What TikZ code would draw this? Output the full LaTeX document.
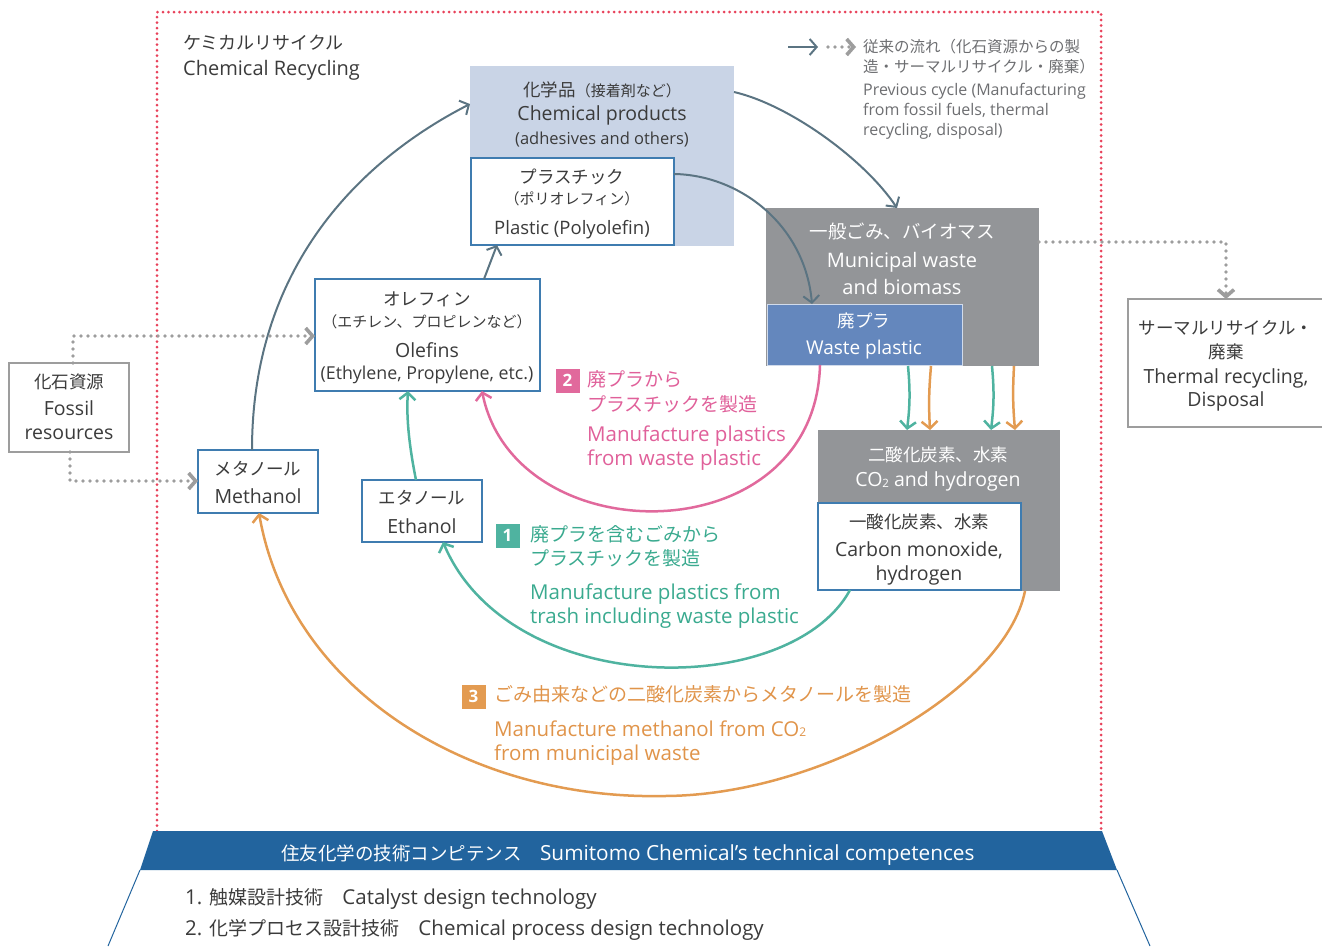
\documentclass[tikz,border=0pt]{standalone}
\usepackage{fontspec}
\setmainfont{Open Sans}
\newfontfamily\jp{Noto Sans CJK JP}
\usetikzlibrary{arrows.meta}
\definecolor{slate}{HTML}{5B7482}
\definecolor{boxblue}{HTML}{3F7CB0}
\definecolor{lightblue}{HTML}{C9D4E6}
\definecolor{boxgray}{HTML}{939598}
\definecolor{wpblue}{HTML}{6487BD}
\definecolor{dgray}{HTML}{9D9D9D}
\definecolor{redframe}{HTML}{E8415A}
\definecolor{bannerblue}{HTML}{22649E}
\definecolor{tealc}{HTML}{4FB3A0}
\definecolor{tealt}{HTML}{3AAA8F}
\definecolor{pinkc}{HTML}{E1699C}
\definecolor{pinkt}{HTML}{E0609A}
\definecolor{orangec}{HTML}{E39B51}
\definecolor{oranget}{HTML}{E0944A}
\definecolor{txtdark}{HTML}{3B3B3B}
\definecolor{lgray}{HTML}{6D6E71}
\begin{document}
\begin{tikzpicture}[x=1pt,y=-1pt,
  lat/.style={font=\fontsize{#1}{#1}\selectfont, anchor=base, inner sep=0pt, yshift=-0.35*#1pt, text=txtdark},
  jpn/.style={font=\jp\fontsize{#1}{#1}\selectfont, anchor=base, inner sep=0pt, yshift=-0.37*#1pt, text=txtdark},
  westa/.style={anchor=base west},
  boxed/.style 2 args={inner sep=0pt, outer sep=0pt, anchor=north west, minimum width=#1pt, minimum height=#2pt},
  bluebox/.style={draw=boxblue, line width=1.5pt, fill=white},
  graybox/.style={draw=dgray, line width=1.2pt, fill=white},
  tip/.style={-{Straight Barb[length=7pt,width=16pt]}},
  slatearr/.style={draw=slate, line width=2pt, tip},
  tealarr/.style={draw=tealc, line width=2.5pt, tip},
  pinkarr/.style={draw=pinkc, line width=2.5pt, tip},
  orangearr/.style={draw=orangec, line width=2.5pt, tip},
  dotarr/.style={draw=dgray, line width=3.6pt, line cap=round, dash pattern=on 0pt off 7pt, tip},
  reddot/.style={draw=redframe, line width=3pt, line cap=round, dash pattern=on 0pt off 5.5pt},
  badge/.style={minimum size=24pt, inner sep=0pt, text=white, font=\bfseries\fontsize{17}{17}\selectfont}
]
\useasboundingbox (0,0) rectangle (1322,946);

% frame
\coordinate (f1) at (157,831);
\coordinate (f2) at (157,12);
\coordinate (f3) at (1101,12);
\coordinate (f4) at (1101,831);
\draw[reddot] (f1) -- (f2) -- (f3) -- (f4);

% boxes
\node[boxed={264}{180}, fill=lightblue] (chem) at (470,66) {};
\node[boxed={203}{87}, bluebox] (plast) at (471,158) {};
\node[boxed={273}{158}, fill=boxgray] (muni) at (766,208) {};
\node[boxed={195}{61}, fill=wpblue, draw=white!70!wpblue, line width=1pt] (wp) at (767,304) {};
\node[boxed={210}{128}, graybox] (therm) at (1128,299) {};
\node[boxed={242}{161}, fill=boxgray] (cot) at (818,430) {};
\node[boxed={203}{87}, bluebox] (co) at (818,503) {};
\node[boxed={225}{112}, bluebox] (ole) at (315,279) {};
\node[boxed={120}{89}, graybox] (fos) at (9,363) {};
\node[boxed={120}{63}, bluebox] (meth) at (198,450) {};
\node[boxed={120}{62}, bluebox] (eth) at (362,480) {};

% legend arrows
\coordinate (lg1) at (788,47);
\coordinate (lg2) at (818,47);
\coordinate (lg3) at (828,47);
\coordinate (lg4) at (856,47);
\draw[slatearr] (lg1) -- (lg2);
\draw[dotarr] (lg3) -- (lg4);

% slate connectors
\draw[slatearr] ([xshift=-6pt]meth.north) .. controls (252,250) and (380,150) .. (chem.west |- 0,104);
\draw[slatearr] (chem.east |- 0,92) .. controls (790,105) and (865,160) .. (muni.north -| 897,0);
\draw[slatearr] (plast.east |- 0,174) .. controls (740,175) and (805,225) .. (wp.north -| 812,0);
\draw[slatearr] (ole.north -| 484,0) -- (plast.south -| 497,0);

% dotted connectors
\draw[dotarr] (fos.north -| 73,0) |- (ole.west |- 0,336);
\draw[dotarr] (fos.south -| 70,0) |- (meth.west |- 0,481);
\draw[dotarr] (muni.east |- 0,242) -| (therm.north -| 1226,0);

% colored connectors
\draw[tealarr] (eth.north -| 416,0) .. controls (410,450) and (406,420) .. (ole.south -| 408,0);
\draw[pinkarr] (wp.south -| 820,0) .. controls (815,555) and (515,555) .. (ole.south -| 482,0);
\draw[tealarr] (co.south -| 850,0) .. controls (790,700) and (510,700) .. (eth.south -| 443,0);
\draw[orangearr] (cot.south -| 1025,0) .. controls (1005,690) and (820,796) .. (663,796)
   .. controls (470,800) and (290,690) .. (meth.south -| 259,0);
\draw[tealarr] (muni.south -| 908,0) to[bend left=6] (cot.north -| 907,0);
\draw[orangearr] (muni.south -| 931,0) to[bend right=4] (cot.north -| 930,0);
\draw[tealarr] (muni.south -| 992,0) to[bend left=6] (cot.north -| 991,0);
\draw[orangearr] (muni.south -| 1014,0) to[bend right=4] (cot.north -| 1015,0);

% title
\node[jpn=18, westa] (ttl1) at (183,43) {ケミカルリサイクル};
\node[lat=20, westa] (ttl2) at (183,68) {Chemical Recycling};

% legend text
\node[jpn=15.5, westa, text=lgray] (lg5) at (863,47) {従来の流れ（化石資源からの製};
\node[jpn=15.5, westa, text=lgray] (lg6) at (863,67) {造・サーマルリサイクル・廃棄）};
\node[lat=16, westa, text=lgray] (lg7) at (863,90) {Previous cycle (Manufacturing};
\node[lat=16, westa, text=lgray] (lg8) at (863,110) {from fossil fuels, thermal};
\node[lat=16, westa, text=lgray] (lg9) at (863,130) {recycling, disposal)};

% chemical products
\node[jpn=17.5] (c1) at (602,90) {化学品{\fontsize{15}{15}\selectfont （接着剤など）}};
\node[lat=19.5] (c2) at (602,114) {Chemical products};
\node[lat=16.5] (c3) at (602,139) {(adhesives and others)};

% plastic
\node[jpn=17.5] (p1) at (572,177) {プラスチック};
\node[jpn=15] (p2) at (572,199) {（ポリオレフィン）};
\node[lat=18.5] (p3) at (572,228) {Plastic (Polyolefin)};

% municipal
\node[jpn=18.5, text=white] (m1) at (902,232) {一般ごみ、バイオマス};
\node[lat=20, text=white] (m2) at (902,260) {Municipal waste};
\node[lat=20, text=white] (m3) at (902,287) {and biomass};

% waste plastic
\node[jpn=17.5, text=white] (w1) at (864,321) {廃プラ};
\node[lat=19, text=white] (w2) at (864,348) {Waste plastic};

% thermal
\node[jpn=17.5] (th1) at (1226,328) {サーマルリサイクル・};
\node[jpn=17.5] (th2) at (1226,352) {廃棄};
\node[lat=19.5] (th3) at (1226,377) {Thermal recycling,};
\node[lat=19.5] (th4) at (1226,400) {Disposal};

% CO2
\node[jpn=17.5, text=white] (k1) at (938,455) {二酸化炭素、水素};
\node[lat=19.5, text=white] (k2) at (938,480) {CO\raisebox{-0.5pt}{\fontsize{11.5}{11.5}\selectfont 2} and hydrogen};

% CO
\node[jpn=17.5] (o1) at (919,522) {一酸化炭素、水素};
\node[lat=19.5] (o2) at (919,550) {Carbon monoxide,};
\node[lat=19.5] (o3) at (919,574) {hydrogen};

% olefins
\node[jpn=17.5] (e1) at (427,299) {オレフィン};
\node[jpn=15] (e2) at (427,322) {（エチレン、プロピレンなど）};
\node[lat=19.5] (e3) at (427,351) {Olefins};
\node[lat=17.8] (e4) at (427,373) {(Ethylene, Propylene, etc.)};

% fossil
\node[jpn=17.5] (fs1) at (69,382) {化石資源};
\node[lat=19.5] (fs2) at (69,409) {Fossil};
\node[lat=19.5] (fs3) at (69,433) {resources};

% methanol, ethanol
\node[jpn=17.5] (me1) at (258,469) {メタノール};
\node[lat=19.5] (me2) at (258,497) {Methanol};
\node[jpn=17.5] (et1) at (422,498) {エタノール};
\node[lat=19.5] (et2) at (422,527) {Ethanol};

% label 2 (pink)
\node[badge, fill=pinkc] (b2) at (567.5,380.5) {2};
\node[jpn=19, westa, text=pinkt] (pk1) at (587,379) {廃プラから};
\node[jpn=19, westa, text=pinkt] (pk2) at (587,404) {プラスチックを製造};
\node[lat=20.5, westa, text=pinkt] (pk3) at (587,434) {Manufacture plastics};
\node[lat=20.5, westa, text=pinkt] (pk4) at (587,458) {from waste plastic};

% label 1 (teal)
\node[badge, fill=tealc] (b1) at (507.5,535.5) {1};
\node[jpn=19, westa, text=tealt] (tl1) at (530,534) {廃プラを含むごみから};
\node[jpn=19, westa, text=tealt] (tl2) at (530,558) {プラスチックを製造};
\node[lat=20.5, westa, text=tealt] (tl3) at (530,592) {Manufacture plastics from};
\node[lat=20.5, westa, text=tealt] (tl4) at (530,616) {trash including waste plastic};

% label 3 (orange)
\node[badge, fill=orangec] (b3) at (473.5,696.5) {3};
\node[jpn=19, westa, text=oranget] (or1) at (494,694) {ごみ由来などの二酸化炭素からメタノールを製造};
\node[lat=20.5, westa, text=oranget] (or2) at (494,729) {Manufacture methanol from CO\raisebox{-0.5pt}{\fontsize{12}{12}\selectfont 2}};
\node[lat=20.5, westa, text=oranget] (or3) at (494,753) {from municipal waste};

% banner
\coordinate (bn1) at (153,831);
\coordinate (bn2) at (1102,831);
\coordinate (bn3) at (1117,870);
\coordinate (bn4) at (140,870);
\coordinate (bl1) at (108,946);
\coordinate (bl2) at (1150,946);
\fill[bannerblue] (bn1) -- (bn2) -- (bn3) -- (bn4) -- cycle;
\draw[bannerblue, line width=1pt] (bn4) -- (bl1);
\draw[bannerblue, line width=1pt] (bn3) -- (bl2);
\node[lat=20.8, text=white] (bt) at (628,853) {{\jp\fontsize{18.5}{18.5}\selectfont 住友化学の技術コンピテンス　}Sumitomo Chemical’s technical competences};

% list
\node[lat=20.5, westa] (li1) at (185,897) {1. {\jp\fontsize{19}{19}\selectfont 触媒設計技術　}Catalyst design technology};
\node[lat=20.5, westa] (li2) at (185,928) {2. {\jp\fontsize{19}{19}\selectfont 化学プロセス設計技術　}Chemical process design technology};
\end{tikzpicture}
\end{document}
